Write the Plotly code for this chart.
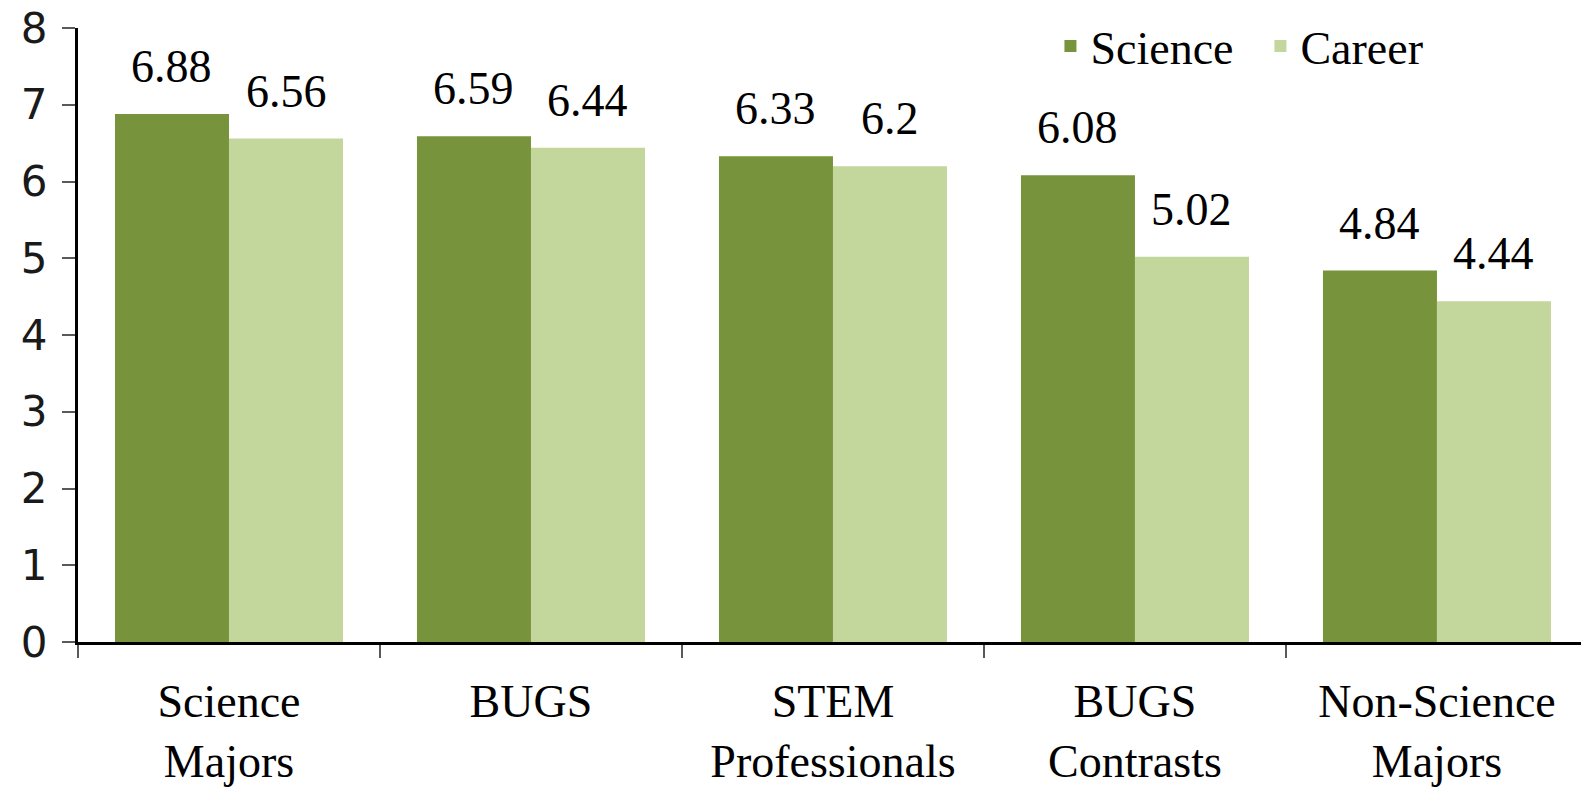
import plotly.graph_objects as go

categories = ["Science<br>Majors", "BUGS", "STEM<br>Professionals", "BUGS<br>Contrasts", "Non-Science<br>Majors"]
science = [6.88, 6.59, 6.33, 6.08, 4.84]
career = [6.56, 6.44, 6.2, 5.02, 4.44]
series_names = ["Science", "Career"]
y_ticks = [0, 1, 2, 3, 4, 5, 6, 7, 8]

dark_green = "#77933C"
light_green = "#C3D69B"
serif = "Liberation Serif, Times New Roman, serif"
sans = "DejaVu Sans, sans-serif"
BARGAP = 0.245

fig = go.Figure()
fig.add_trace(go.Bar(x=categories, y=science, name=series_names[0], marker=dict(color=dark_green, line=dict(width=0))))
fig.add_trace(go.Bar(x=categories, y=career, name=series_names[1], marker=dict(color=light_green, line=dict(width=0))))

half = (1 - BARGAP) / 4
annotations = []
for i, (s, c) in enumerate(zip(science, career)):
    for xv, v in ((i - half, s), (i + half, c)):
        annotations.append(dict(x=xv, y=v, xref="x", yref="y", text=f"{v:g}", showarrow=False,
                                yanchor="bottom", xanchor="center", yshift=20,
                                font=dict(family=serif, size=46, color="#000000")))

fig.update_layout(
    width=1581, height=791,
    margin=dict(l=78, r=0, t=28, b=149, autoexpand=False),
    paper_bgcolor="white", plot_bgcolor="white",
    barmode="group", bargap=BARGAP, bargroupgap=0,
    annotations=annotations,
    legend=dict(orientation="h", x=0.647, y=1.03, xanchor="left", yanchor="top",
                font=dict(family=serif, size=46, color="#000000"),
                bgcolor="rgba(0,0,0,0)", entrywidth=165, itemwidth=30),
    showlegend=True,
)
fig.update_xaxes(range=[-0.5, 4.477], showline=True, linecolor="#000000", linewidth=3,
                 ticks="outside", tickson="boundaries", ticklen=13, tickwidth=2, tickcolor="#595959",
                 showgrid=False, zeroline=False, automargin=False, ticklabelstandoff=17,
                 tickfont=dict(family=serif, size=46, color="#000000"))
fig.update_yaxes(range=[0, 8], tickvals=y_ticks, showline=True, linecolor="#000000", linewidth=3,
                 ticks="outside", ticklen=13, tickwidth=2, tickcolor="#595959",
                 showgrid=False, zeroline=False, automargin=False, ticklabelstandoff=6,
                 ticklabeloverflow="allow",
                 tickfont=dict(family=sans, size=42, color="#1a1a1a"))

# remove the browser's default 8px body margin so the figure fills the window exactly
fig.write_html("out.html", config={"displayModeBar": False},
               post_script="document.body.style.margin='0';document.body.style.overflow='hidden';")
